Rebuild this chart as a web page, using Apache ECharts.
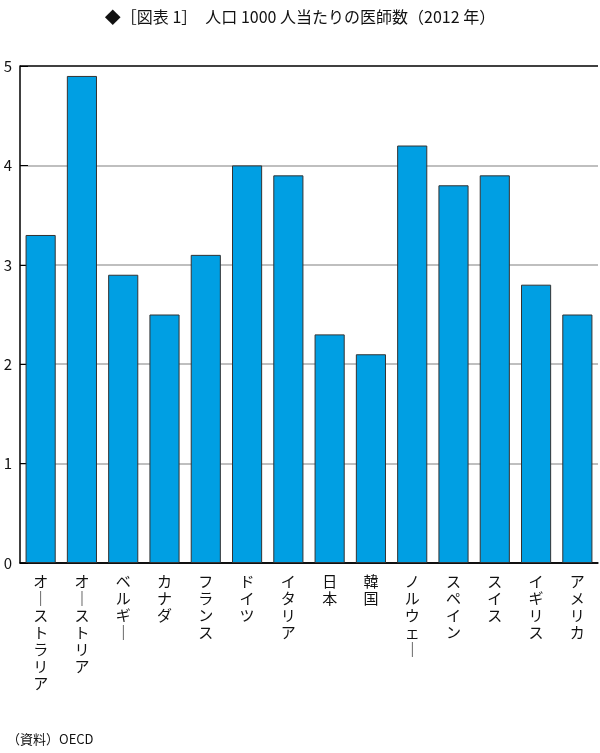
<!DOCTYPE html>
<html><head><meta charset="utf-8">
<script src="https://cdn.jsdelivr.net/npm/echarts@6/dist/echarts.min.js"></script>
<style>html,body{margin:0;padding:0;background:#fff}#c{width:600px;height:753px}</style>
</head><body><div id="c"></div>
<script>
const categories = ['オーストラリア','オーストリア','ベルギー','カナダ','フランス','ドイツ','イタリア','日本','韓国','ノルウェー','スペイン','スイス','イギリス','アメリカ'];
const values = [3.3,4.9,2.9,2.5,3.1,4.0,3.9,2.3,2.1,4.2,3.8,3.9,2.8,2.5];
const yTicks = [0,1,2,3,4,5];
const F = '"Noto Sans CJK JP", sans-serif';
const chart = echarts.init(document.getElementById('c'));
chart.setOption({
  animation:false,
  title:[{text:'◆［図表 1］　人口 1000 人当たりの医師数（2012 年）',left:'center',top:4,textStyle:{fontFamily:F,fontSize:16,fontWeight:'normal',color:'#111'}},
         {text:'（資料）OECD',left:2,top:728,textStyle:{fontFamily:F,fontSize:13,fontWeight:'normal',color:'#111'}}],
  grid:{left:20,right:2,top:66,bottom:190},
  xAxis:{type:'category',data:categories,
    axisLine:{lineStyle:{color:'#000',width:1.5}},
    axisTick:{inside:true,length:8,lineStyle:{color:'#000'}},
    axisLabel:{interval:0,margin:10,fontFamily:F,fontSize:15,lineHeight:17,color:'#111',verticalAlign:'top',
      formatter:v=>v.replace(/ー/g,'｜').split('').join('\n')}},
  yAxis:{type:'value',min:0,max:5,interval:1,
    axisLine:{show:true,lineStyle:{color:'#000',width:1.5}},
    axisTick:{show:true,inside:true,length:8,lineStyle:{color:'#000'}},
    splitLine:{lineStyle:{color:['#000','#aaa','#aaa','#aaa','#aaa','#000'],width:1.5}},
    axisLabel:{margin:8,fontFamily:F,fontSize:15,color:'#111',formatter:v=>yTicks.includes(v)?String(v):''}},
  series:[{type:'bar',data:values,barCategoryGap:'27%',
    itemStyle:{color:'#009fe3',borderColor:'#333',borderWidth:1}}]
});
</script></body></html>
